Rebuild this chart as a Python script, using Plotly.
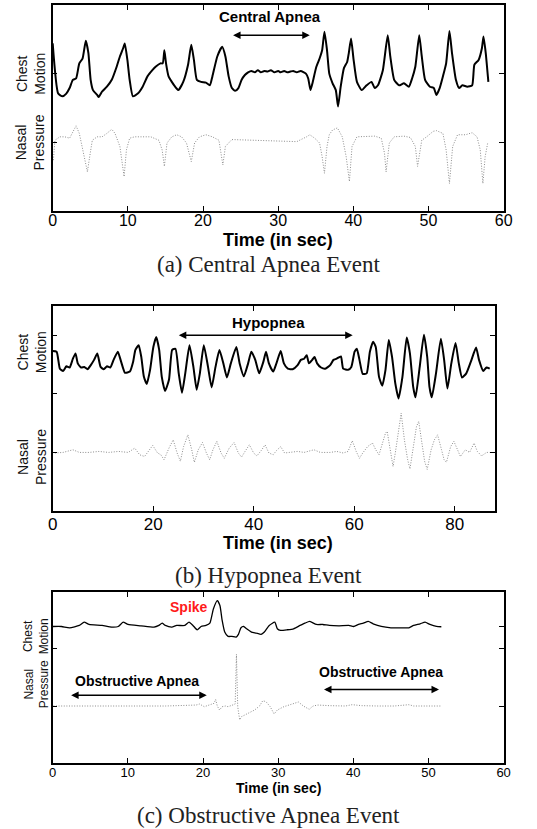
import plotly.graph_objects as go

# ---------------- Panel (a): Central Apnea Event ----------------
a_chest = [(0, 2.44), (0.73, 1.71), (1.30, 1.67), (1.81, 1.71), (2.25, 1.79), (2.68, 1.91), (3.11, 1.93),
           (3.54, 2.15), (3.97, 2.22), (4.41, 2.48), (4.75, 2.30), (5.05, 1.91), (5.36, 1.76), (5.92, 1.69),
           (6.13, 1.66), (6.57, 1.74), (7.21, 1.81), (7.86, 1.91), (8.51, 2.10), (8.94, 2.25), (9.37, 2.37),
           (9.59, 2.44), (9.94, 2.20), (10.24, 1.91), (10.67, 1.67), (11.32, 1.71), (11.97, 1.81), (12.61, 1.96),
           (13.26, 2.05), (13.69, 2.10), (14.34, 2.15), (14.64, 2.15), (14.86, 2.34), (15.08, 2.15), (15.42, 1.96),
           (15.85, 1.88), (16.29, 1.81), (16.72, 1.76), (17.37, 1.88), (18.01, 2.13), (18.44, 2.42), (18.79, 2.20),
           (19.18, 1.91), (19.74, 1.88), (20.39, 1.87), (20.91, 1.83), (21.25, 1.96), (21.90, 2.25), (22.55, 2.39),
           (22.98, 2.25), (23.41, 1.96), (23.84, 1.79), (24.28, 1.75), (24.71, 1.79), (25.14, 1.91), (25.57, 1.98),
           (26.0, 2.02), (26.44, 2.04), (26.9, 2.02), (27.3, 2.05), (27.7, 2.02), (28.16, 2.04), (28.6, 2.03),
           (29.03, 2.05), (29.5, 2.02), (30.0, 2.04), (30.32, 2.02), (30.8, 2.04), (31.2, 2.02), (31.62, 2.03),
           (32.0, 2.04), (32.48, 2.02), (33.0, 2.04), (33.69, 2.00), (34.0, 1.93), (34.30, 1.76), (34.56, 1.86),
           (35.08, 2.10), (35.51, 2.22), (35.85, 2.34), (36.16, 2.61), (36.50, 2.34), (36.80, 2.00), (37.24, 1.86),
           (37.67, 1.76), (37.97, 1.52), (38.32, 1.81), (38.75, 2.08), (39.18, 2.17), (39.40, 2.30), (39.70, 2.51),
           (40.04, 2.20), (40.48, 1.88), (41.12, 1.76), (41.77, 1.83), (42.42, 1.88), (42.85, 1.79), (43.28, 1.83),
           (43.93, 2.05), (44.58, 2.56), (44.92, 2.25), (45.44, 1.91), (46.09, 1.83), (46.74, 1.86), (47.39, 1.81),
           (47.82, 1.93), (48.25, 2.10), (48.77, 2.56), (49.11, 2.25), (49.55, 1.91), (50.19, 1.81), (50.71, 1.79),
           (51.06, 1.69), (51.49, 1.79), (51.92, 1.96), (52.35, 2.15), (52.79, 2.62), (53.13, 2.30), (53.65, 1.91),
           (54.08, 1.79), (54.51, 1.83), (55.16, 1.81), (55.81, 1.83), (56.11, 2.13), (56.67, 2.20), (57.11, 2.37),
           (57.32, 2.54), (57.62, 2.30), (57.97, 1.88)]

a_nasal = [(0.09, 0.74), (0.30, 1.03), (0.95, 1.08), (1.60, 1.08), (2.25, 1.06), (2.68, 1.16), (3.11, 1.24),
           (3.54, 1.13), (3.97, 0.89), (4.41, 0.65), (4.62, 0.57), (4.92, 0.79), (5.27, 1.03), (5.92, 1.08),
           (6.57, 1.08), (7.21, 1.13), (7.86, 1.19), (8.29, 1.13), (8.94, 0.94), (9.50, 0.50), (9.81, 0.89),
           (10.24, 1.06), (10.89, 1.08), (12.18, 1.08), (13.05, 1.08), (14.13, 1.03), (14.56, 0.89), (14.86, 0.65),
           (15.21, 0.99), (15.85, 1.08), (16.50, 1.11), (17.15, 1.08), (17.80, 0.99), (18.44, 0.72), (18.88, 0.99),
           (19.53, 1.08), (20.39, 1.11), (21.25, 1.08), (22.12, 1.03), (22.64, 0.67), (22.98, 0.94), (23.84, 1.04),
           (26.0, 1.03), (28.16, 1.02), (30.32, 1.01), (32.48, 1.01), (33.78, 1.08), (34.21, 1.11), (34.86, 1.06),
           (35.51, 0.99), (35.85, 0.79), (36.16, 0.55), (36.50, 0.94), (36.80, 1.11), (37.24, 1.18), (37.88, 1.21),
           (38.53, 1.08), (39.05, 0.79), (39.48, 0.43), (39.83, 0.94), (40.48, 1.08), (41.12, 1.08), (41.99, 1.08),
           (42.85, 1.09), (43.72, 1.06), (44.15, 0.84), (44.36, 0.57), (44.79, 0.99), (45.44, 1.08), (46.74, 1.09),
           (47.60, 1.07), (48.25, 0.94), (48.55, 0.65), (49.11, 1.03), (49.76, 1.08), (50.63, 1.16), (51.06, 1.17),
           (51.92, 1.13), (52.35, 0.89), (52.79, 0.40), (53.22, 0.94), (53.87, 1.11), (54.95, 1.11), (55.81, 1.14),
           (56.46, 1.08), (56.89, 0.89), (57.24, 0.40), (57.54, 0.79), (57.88, 0.99)]

# ---------------- Panel (b): Hypopnea Event ----------------
b_chest = [(0, 2.73), (0.78, 2.72), (1.43, 2.43), (2.07, 2.39), (2.72, 2.47), (3.37, 2.45), (4.02, 2.60),
           (4.54, 2.69), (4.99, 2.52), (5.64, 2.45), (6.29, 2.46), (6.94, 2.42), (7.58, 2.49), (8.23, 2.58),
           (8.88, 2.69), (9.53, 2.46), (10.17, 2.42), (10.82, 2.47), (11.47, 2.45), (12.12, 2.58), (12.96, 2.72),
           (13.61, 2.55), (14.39, 2.36), (15.36, 2.38), (16.01, 2.55), (16.46, 2.75), (17.11, 2.83), (17.63, 2.63),
           (18.15, 2.29), (18.73, 2.17), (19.38, 2.41), (20.03, 2.80), (20.61, 2.97), (21.19, 2.75), (21.71, 2.29),
           (22.36, 2.05), (23.14, 2.24), (23.78, 2.75), (24.43, 2.77), (25.08, 2.35), (25.73, 2.02), (26.38, 2.35),
           (27.22, 2.83), (28.0, 2.46), (28.65, 2.07), (29.29, 2.35), (30.07, 2.83), (30.91, 2.46), (31.63, 2.11),
           (32.40, 2.46), (33.18, 2.75), (33.96, 2.52), (34.67, 2.28), (35.45, 2.52), (36.55, 2.80), (37.20, 2.52),
           (38.04, 2.30), (38.89, 2.52), (39.53, 2.72), (40.31, 2.58), (41.09, 2.35), (41.93, 2.55), (42.45, 2.72),
           (43.03, 2.52), (43.88, 2.38), (44.52, 2.52), (45.37, 2.73), (46.01, 2.52), (46.79, 2.43), (47.76, 2.42),
           (48.74, 2.49), (49.38, 2.58), (50.03, 2.60), (50.55, 2.66), (51.0, 2.52), (51.65, 2.58), (52.11, 2.63),
           (52.62, 2.52), (53.40, 2.45), (54.24, 2.43), (55.22, 2.49), (55.87, 2.58), (56.51, 2.60), (57.36, 2.64),
           (57.81, 2.43), (58.78, 2.41), (59.43, 2.46), (60.08, 2.72), (60.53, 2.77), (61.05, 2.58), (61.70, 2.34),
           (62.48, 2.35), (63.12, 2.72), (63.77, 2.89), (64.29, 2.80), (64.94, 2.29), (65.59, 2.14), (66.23, 2.41),
           (66.88, 2.92), (67.53, 2.63), (68.18, 2.18), (68.83, 1.92), (69.60, 2.29), (70.45, 2.96), (71.09, 2.69),
           (71.74, 2.12), (72.20, 1.94), (73.04, 2.46), (73.88, 3.01), (74.53, 2.63), (74.98, 2.12), (75.44, 1.94),
           (76.28, 2.35), (77.25, 2.94), (77.90, 2.58), (78.55, 2.09), (79.33, 2.52), (80.17, 2.87), (80.82, 2.52),
           (81.46, 2.28), (82.31, 2.35), (83.22, 2.55), (84.25, 2.79), (84.84, 2.58), (85.68, 2.39), (86.33, 2.45),
           (86.97, 2.43)]

b_nasal = [(0.45, 0.99), (2.07, 1.0), (4.02, 1.045), (5.31, 1.0), (7.26, 1.0), (9.20, 1.017), (11.15, 1.0),
           (13.09, 1.017), (15.04, 1.0), (16.33, 1.074), (17.30, 0.96), (18.28, 0.93), (19.90, 1.12), (20.87, 0.99),
           (21.52, 0.96), (22.16, 0.875), (23.14, 1.074), (23.98, 1.215), (24.76, 0.99), (25.41, 0.85), (26.05, 1.10),
           (26.90, 1.30), (27.67, 1.045), (28.19, 0.83), (28.97, 1.045), (29.81, 1.17), (30.59, 0.99), (31.24, 0.875),
           (31.89, 1.045), (32.66, 1.19), (33.51, 0.99), (34.15, 0.90), (35.13, 1.074), (36.10, 1.17), (36.95, 0.99),
           (37.59, 0.92), (38.37, 1.03), (39.14, 1.13), (39.99, 0.99), (40.64, 0.94), (41.61, 1.045), (42.26, 1.13),
           (43.03, 0.99), (43.88, 0.96), (44.52, 1.03), (45.37, 1.10), (46.14, 0.99), (47.44, 1.0), (48.74, 1.017),
           (50.03, 1.0), (51.98, 1.045), (53.27, 1.0), (55.22, 1.0), (56.51, 1.017), (57.81, 0.99), (58.78, 1.017),
           (59.62, 1.20), (60.40, 1.017), (61.05, 0.90), (61.70, 0.99), (62.67, 1.10), (63.64, 1.16), (64.29, 1.045),
           (64.94, 0.96), (65.59, 1.16), (66.23, 1.33), (66.56, 1.36), (67.21, 0.99), (67.73, 0.76), (68.18, 0.99),
           (68.83, 1.33), (69.35, 1.67), (69.99, 1.215), (70.64, 0.875), (71.10, 0.72), (71.74, 1.10), (72.39, 1.44),
           (72.84, 1.53), (73.49, 1.10), (74.01, 0.85), (74.53, 0.71), (75.31, 1.045), (75.96, 1.215), (76.60, 1.30),
           (77.38, 1.045), (77.90, 0.875), (78.35, 0.83), (79.20, 1.10), (79.84, 1.19), (80.49, 1.074), (81.14, 0.93),
           (82.11, 1.045), (82.96, 1.0), (83.86, 1.16), (84.51, 1.017), (85.35, 0.94), (86.33, 1.0), (86.97, 1.0)]

# ---------------- Panel (c): Obstructive Apnea Event ----------------
c_chest = [(0, 2.395), (1.17, 2.395), (2.25, 2.372), (3.54, 2.413), (4.19, 2.471), (4.84, 2.43), (6.57, 2.413),
           (7.86, 2.384), (8.73, 2.395), (9.37, 2.471), (10.02, 2.43), (11.75, 2.407), (13.48, 2.384), (14.13, 2.413),
           (14.56, 2.453), (14.99, 2.413), (15.85, 2.384), (16.50, 2.413), (17.58, 2.413), (18.14, 2.471),
           (18.66, 2.413), (19.22, 2.337), (19.74, 2.395), (20.39, 2.413), (20.91, 2.453), (21.38, 2.703),
           (21.90, 2.849), (22.25, 2.762), (22.55, 2.50), (22.89, 2.297), (23.33, 2.221), (23.84, 2.221),
           (24.41, 2.209), (24.71, 2.256), (25.05, 2.372), (25.40, 2.395), (25.79, 2.355), (26.44, 2.297),
           (27.08, 2.279), (27.73, 2.256), (28.16, 2.297), (28.81, 2.413), (29.55, 2.471), (29.89, 2.355),
           (30.32, 2.326), (31.19, 2.337), (32.05, 2.355), (32.92, 2.413), (33.56, 2.453), (34.21, 2.483),
           (35.08, 2.43), (35.94, 2.43), (36.80, 2.413), (38.10, 2.407), (39.40, 2.413), (40.04, 2.395),
           (40.69, 2.43), (41.34, 2.453), (41.99, 2.483), (42.63, 2.442), (43.72, 2.395), (45.01, 2.372),
           (46.31, 2.372), (47.39, 2.372), (48.03, 2.413), (48.90, 2.442), (49.55, 2.471), (50.19, 2.43),
           (51.06, 2.395), (51.71, 2.39)]

c_nasal = [(0.09, 1.0), (5.0, 1.0), (10.0, 1.0), (15.0, 1.0), (19.09, 1.017), (19.53, 1.035), (20.17, 0.988),
           (20.82, 1.017), (21.47, 1.047), (21.68, 1.116), (21.90, 1.0), (22.20, 0.93), (22.55, 0.988),
           (22.98, 1.0), (23.33, 0.988), (23.84, 1.012), (24.28, 1.035), (24.45, 1.907), (24.62, 0.988),
           (24.88, 0.756), (25.14, 0.814), (26.0, 0.872), (26.87, 0.93), (27.52, 1.0), (27.95, 1.093),
           (28.38, 1.076), (28.94, 0.988), (29.46, 0.86), (29.89, 0.93), (30.76, 0.988), (31.62, 1.029),
           (32.70, 1.07), (33.35, 1.0), (34.13, 0.942), (34.64, 1.0), (35.29, 1.017), (36.80, 1.006), (38.96, 1.0),
           (39.83, 1.023), (41.12, 1.006), (43.28, 1.0), (45.44, 1.0), (47.39, 1.023), (48.03, 1.0), (51.71, 1.0)]

SANS = "Liberation Sans, Arial, Helvetica, sans-serif"
SERIF = "Liberation Serif, Times New Roman, serif"

fig = go.Figure()


def add_pair(series, axis_suffix, chest_width, is_chest):
    t = [p[0] for p in series]
    v = [p[1] for p in series]
    if is_chest:
        line = dict(color="black", width=chest_width, shape="spline", smoothing=0.5)
    else:
        line = dict(color="#8c8c8c", width=1, dash="1px,1.6px")
    fig.add_trace(go.Scatter(x=t, y=v, mode="lines", line=line, showlegend=False, hoverinfo="skip",
                             xaxis="x" + axis_suffix, yaxis="y" + axis_suffix))


add_pair(a_chest, "", 2, True)
add_pair(a_nasal, "", 1, False)
add_pair(b_chest, "2", 2, True)
add_pair(b_nasal, "2", 1, False)
add_pair(c_chest, "3", 1.3, True)
add_pair(c_nasal, "3", 1, False)

common = dict(showline=True, linecolor="black", mirror="ticks", ticks="inside", ticklen=5,
              tickcolor="black", showgrid=False, zeroline=False, fixedrange=True, linewidth=1.5)

fig.update_layout(
    width=537, height=829, margin=dict(l=0, r=0, t=0, b=0),
    paper_bgcolor="white", plot_bgcolor="white",
    xaxis=dict(domain=[0.0912, 0.9534], anchor="y", range=[0, 60], tickvals=[0, 10, 20, 30, 40, 50, 60],
               tickfont=dict(family=SANS, size=16, color="black"), ticklabelstandoff=-6, **common),
    yaxis=dict(domain=[0.7455, 0.994], anchor="x", range=[0, 3], tickvals=[1, 2], showticklabels=False,
               **common),
    xaxis2=dict(domain=[0.0912, 0.9367], anchor="y2", range=[0, 88], tickvals=[0, 20, 40, 60, 80],
                tickfont=dict(family=SANS, size=17, color="black"), ticklabelstandoff=-3, **common),
    yaxis2=dict(domain=[0.3836, 0.6309], anchor="x2", range=[0, 3.5], tickvals=[1, 2, 3], showticklabels=False,
                **common),
    xaxis3=dict(domain=[0.0912, 0.9534], anchor="y3", range=[0, 60], tickvals=[0, 10, 20, 30, 40, 50, 60],
                tickfont=dict(family=SANS, size=13, color="black"), ticklabelstandoff=-3, **common),
    yaxis3=dict(domain=[0.0796, 0.2859], anchor="x3", range=[0, 3], tickvals=[1, 2, 2.4], showticklabels=False,
                **common),
)

annotations = []


def arrow(xa, xb, yv, xref, yref):
    annotations.append(dict(x=xb, y=yv, ax=xa, ay=yv, xref=xref, yref=yref, axref=xref, ayref=yref,
                            text="", showarrow=True, arrowhead=2, arrowside="end+start", arrowsize=1,
                            arrowwidth=1.5, arrowcolor="black"))


def label(text, x, y, xref, yref, size, color="black"):
    annotations.append(dict(x=x, y=y, xref=xref, yref=yref, text="<b>" + text + "</b>", showarrow=False,
                            font=dict(family=SANS, size=size, color=color), xanchor="center", yanchor="middle"))


def ylab(text, xfrac, y, xref, yref, size):
    annotations.append(dict(x=xfrac, y=y, xref=xref, yref=yref, text=text, showarrow=False, textangle=-90,
                            font=dict(family=SANS, size=size, color="#111"), xanchor="center", yanchor="middle"))


# Panel (a)
label("Central Apnea", 28.9, 2.83, "x", "y", 15)
arrow(23.8, 34.2, 2.56, "x", "y")
ylab("Chest<br>Motion", -0.05, 2.0, "x domain", "y", 14)
ylab("Nasal<br>Pressure", -0.05, 1.0, "x domain", "y", 14)

# Panel (b)
label("Hypopnea", 43.0, 3.21, "x2", "y2", 15)
arrow(24.8, 59.7, 3.0, "x2", "y2")
ylab("Chest<br>Motion", -0.048, 2.72, "x2 domain", "y2", 14)
ylab("Nasal<br>Pressure", -0.048, 0.93, "x2 domain", "y2", 14)

# Panel (c)
label("Spike", 18.1, 2.74, "x3", "y3", 14, color="#ff1a1a")
label("Obstructive Apnea", 11.2, 1.44, "x3", "y3", 14)
arrow(2.25, 20.5, 1.19, "x3", "y3")
label("Obstructive Apnea", 43.7, 1.59, "x3", "y3", 14)
arrow(35.9, 51.4, 1.29, "x3", "y3")
ylab("Chest<br>Motion", -0.035, 2.22, "x3 domain", "y3", 12)
ylab("Nasal<br>Pressure", -0.035, 1.38, "x3 domain", "y3", 12)

# Axis titles
for yp, sz in [(1 - 240 / 829, 18), (1 - 543 / 829, 18), (1 - 788 / 829, 14)]:
    annotations.append(dict(x=0.522, y=yp, xref="paper", yref="paper", text="<b>Time (in sec)</b>",
                            showarrow=False, font=dict(family=SANS, size=sz, color="black"),
                            xanchor="center", yanchor="middle"))

# Captions
for txt, yp in [("(a) Central Apnea Event", 1 - 264 / 829), ("(b) Hypopnea Event", 1 - 575 / 829),
                ("(c) Obstructive Apnea Event", 1 - 815 / 829)]:
    annotations.append(dict(x=0.503, y=yp, xref="paper", yref="paper", text=txt, showarrow=False,
                            font=dict(family=SERIF, size=23, color="#222"), xanchor="center", yanchor="middle"))

fig.update_layout(annotations=annotations)
fig.write_html("out.html", config={"displayModeBar": False},
               post_script="document.body.style.margin='0';")
